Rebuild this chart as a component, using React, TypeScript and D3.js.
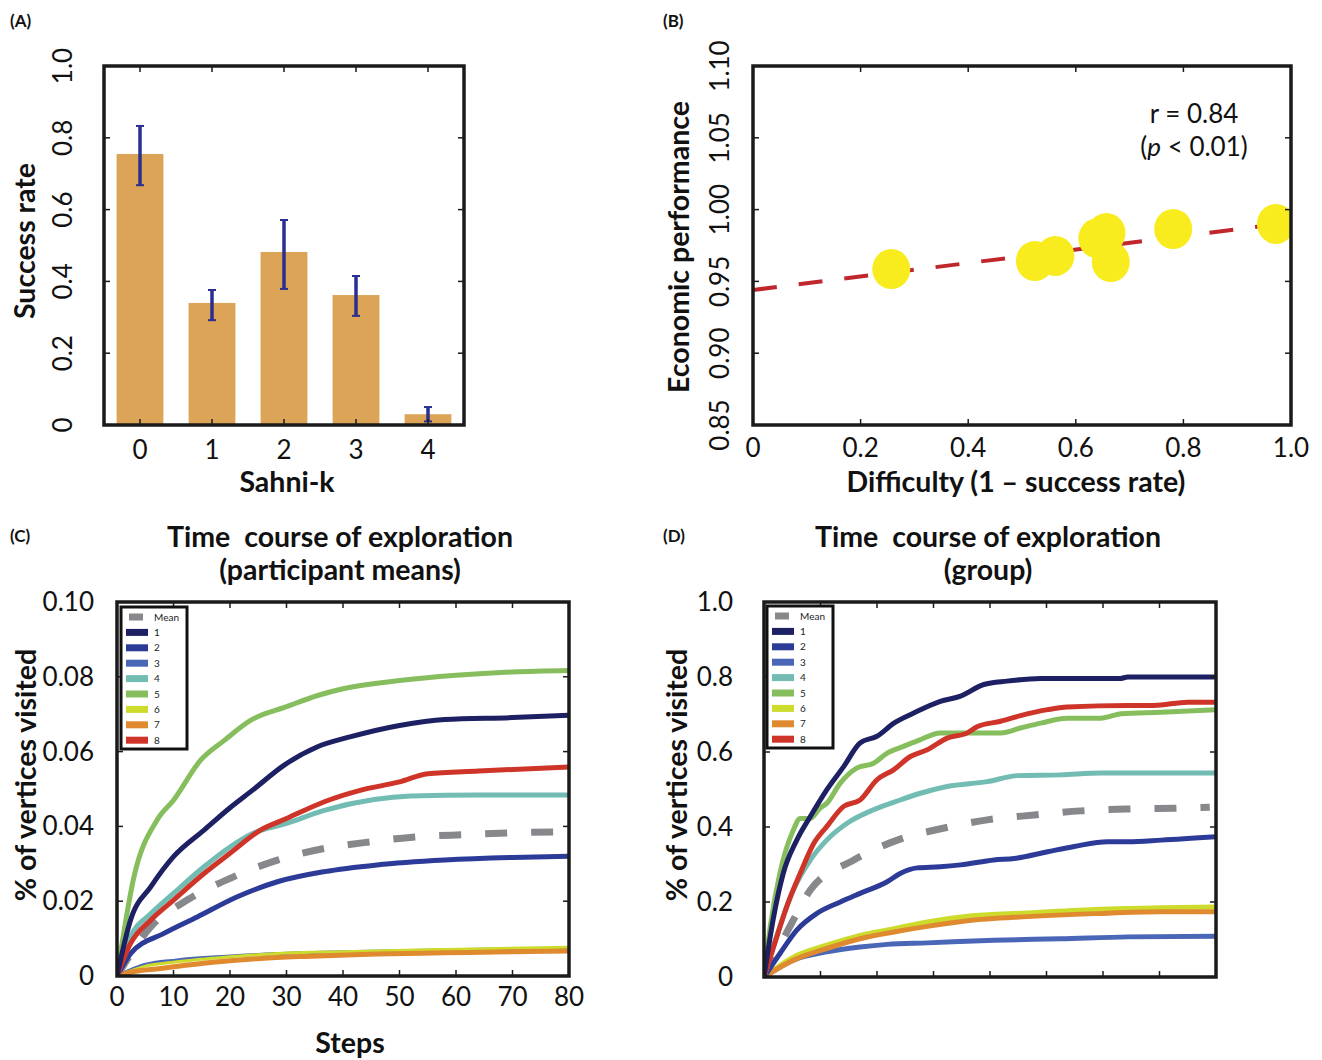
import * as d3 from "d3";
import React from "react";

const FONT = "Lato, 'Open Sans', sans-serif";

// (A) success rate by Sahni-k
const sahniK = ["0", "1", "2", "3", "4"];
const successRate = [0.755, 0.34, 0.482, 0.362, 0.03];
const successLo = [0.668, 0.292, 0.379, 0.304, 0.01];
const successHi = [0.833, 0.376, 0.571, 0.415, 0.05];
const yTicksA = [0, 0.2, 0.4, 0.6, 0.8, 1.0];
const yTickLabelsA = ["0", "0.2", "0.4", "0.6", "0.8", "1.0"];

// (B) difficulty vs economic performance
const difficulty = [0.257, 0.524, 0.562, 0.64, 0.657, 0.665, 0.781, 0.972];
const economic = [0.9586, 0.9642, 0.9677, 0.98, 0.9837, 0.9635, 0.9865, 0.99];
const fitIntercept = 0.944;
const fitSlope = 0.047;
const xTicksB = [0, 0.2, 0.4, 0.6, 0.8, 1.0];
const xTickLabelsB = ["0", "0.2", "0.4", "0.6", "0.8", "1.0"];
const yTicksB = [0.85, 0.9, 0.95, 1.0, 1.05, 1.1];
const yTickLabelsB = ["0.85", "0.90", "0.95", "1.00", "1.05", "1.10"];

// (C) participant means, [step, fraction]
type Pt = [number, number];
const cMean: Pt[] = [[0, 0], [6, 0.0132], [12.4, 0.0203], [20.6, 0.0265], [28.4, 0.031], [36.7, 0.0341], [45, 0.0359], [53, 0.0372], [61.5, 0.0378], [70, 0.0383], [80, 0.0386]];
const c1: Pt[] = [[0, 0], [2.4, 0.015], [6, 0.0239], [10, 0.0319], [15.4, 0.039], [20, 0.045], [24, 0.0497], [29.6, 0.0564], [35.5, 0.0613], [41.4, 0.064], [50, 0.067], [58, 0.0686], [70, 0.0691], [80, 0.0697]];
const c2: Pt[] = [[0, 0], [2.4, 0.006], [8.3, 0.0114], [14.2, 0.0158], [21.3, 0.0212], [28.4, 0.0252], [36.7, 0.0279], [46, 0.0297], [58, 0.031], [70, 0.0317], [80, 0.032]];
const c3: Pt[] = [[0, 0], [4.7, 0.003], [10.6, 0.0043], [19.5, 0.0053], [28.4, 0.006], [40, 0.0065], [58, 0.007], [80, 0.0074]];
const c4: Pt[] = [[0, 0], [2.4, 0.0105], [6, 0.0167], [10, 0.0221], [15.4, 0.0292], [20, 0.0345], [24, 0.0381], [30, 0.0408], [36.7, 0.0443], [45.5, 0.0472], [52, 0.0481], [64, 0.0484], [80, 0.0484]];
const c5: Pt[] = [[0, 0], [3, 0.0265], [7.1, 0.0417], [10, 0.047], [14.8, 0.0577], [19, 0.063], [23.7, 0.0684], [30, 0.072], [35.5, 0.075], [40, 0.0768], [50, 0.079], [60, 0.0804], [70, 0.0813], [80, 0.0817]];
const c6: Pt[] = [[0, 0], [4.7, 0.0025], [10.6, 0.0038], [19.5, 0.0051], [28.4, 0.006], [40, 0.0065], [58, 0.0071], [80, 0.0077]];
const c7: Pt[] = [[0, 0], [2.4, 0.001], [7.7, 0.002], [16.5, 0.0036], [25.4, 0.0047], [34.3, 0.0053], [46, 0.0059], [58, 0.0062], [70, 0.0065], [80, 0.0067]];
const c8: Pt[] = [[0, 0], [2.4, 0.0087], [6, 0.015], [10, 0.0203], [15.4, 0.0274], [20, 0.0328], [25.4, 0.039], [30, 0.0421], [36.7, 0.0466], [43.2, 0.0497], [50, 0.0519], [55, 0.0541], [64, 0.0548], [80, 0.0559]];

// (D) group, [step, fraction]
const dMean: Pt[] = [[0, 0], [5.2, 0.152], [8.2, 0.232], [15.9, 0.312], [23.6, 0.365], [31.5, 0.396], [39.5, 0.419], [47.8, 0.432], [56.1, 0.443], [64.4, 0.448], [72.7, 0.45], [78.9, 0.453]];
const d1: Pt[] = [[0, 0], [1.7, 0.16], [3.4, 0.276], [5.8, 0.365], [8.2, 0.428], [11.1, 0.499], [14.1, 0.561], [17, 0.624], [20, 0.642], [23, 0.677], [26.5, 0.704], [31.2, 0.735], [34.8, 0.749], [38.9, 0.78], [43, 0.789], [49, 0.796], [63, 0.796], [64.4, 0.8], [80, 0.8]];
const d2: Pt[] = [[0, 0], [2.8, 0.062], [5.8, 0.125], [9.3, 0.169], [13.5, 0.2], [17, 0.223], [21.8, 0.254], [24.1, 0.276], [27.1, 0.291], [31.2, 0.294], [34.8, 0.299], [40.7, 0.312], [44.3, 0.316], [50.2, 0.334], [54.9, 0.348], [60.8, 0.361], [64.4, 0.361], [70.3, 0.365], [80, 0.374]];
const d3s: Pt[] = [[0, 0], [5.2, 0.045], [11.1, 0.067], [17, 0.08], [21.8, 0.087], [28.9, 0.091], [40.7, 0.098], [52.5, 0.102], [64.4, 0.107], [80, 0.109]];
const d4: Pt[] = [[0, 0], [2.8, 0.134], [5.2, 0.232], [8.2, 0.312], [11.1, 0.365], [14.7, 0.41], [19.4, 0.446], [24.1, 0.472], [27.7, 0.49], [32.4, 0.508], [39.5, 0.521], [44.9, 0.537], [52.5, 0.539], [59.6, 0.544], [80, 0.544]];
const d5: Pt[] = [[0, 0], [1.1, 0.134], [2.8, 0.276], [5.2, 0.392], [6.4, 0.423], [8.2, 0.423], [9.9, 0.45], [11.1, 0.463], [13.5, 0.517], [16.4, 0.557], [19.4, 0.57], [21.8, 0.597], [24.7, 0.615], [27.7, 0.633], [31.2, 0.651], [36, 0.651], [41.9, 0.651], [45.4, 0.664], [49, 0.677], [53.7, 0.69], [59.6, 0.69], [63.2, 0.702], [70.3, 0.706], [80, 0.713]];
const d6: Pt[] = [[0, 0], [5.2, 0.053], [11.1, 0.085], [17, 0.111], [23, 0.129], [28.9, 0.147], [36, 0.162], [46.6, 0.171], [58.5, 0.18], [70.3, 0.185], [80, 0.187]];
const d7: Pt[] = [[0, 0], [5.2, 0.045], [11.1, 0.076], [17, 0.102], [23, 0.12], [28.9, 0.135], [36, 0.15], [46.6, 0.161], [58.5, 0.169], [70.3, 0.174], [80, 0.174]];
const d8: Pt[] = [[0, 0], [1.7, 0.08], [4, 0.187], [6.4, 0.276], [8.8, 0.356], [11.1, 0.401], [14.1, 0.455], [17, 0.472], [20, 0.526], [23, 0.553], [25.9, 0.588], [28.9, 0.606], [32.4, 0.637], [36, 0.651], [37.8, 0.668], [41.9, 0.682], [45.4, 0.697], [50.2, 0.713], [53.7, 0.72], [64.4, 0.724], [69, 0.724], [75, 0.733], [80, 0.733]];

const seriesNames = ["Mean", "1", "2", "3", "4", "5", "6", "7", "8"];
const seriesColors = ["#87888c", "#1d2062", "#2c3a98", "#4a66b6", "#72bcb4", "#86be5e", "#cddc2c", "#e08a30", "#cf3429"];
const seriesC = [cMean, c1, c2, c3, c4, c5, c6, c7, c8];
const seriesD = [dMean, d1, d2, d3s, d4, d5, d6, d7, d8];
const widthsC = [7, 5, 5, 3, 5, 5, 3, 5, 5];
const widthsD = [7, 5, 5, 5, 5, 5, 5, 5, 5];

const stepTicks = [0, 10, 20, 30, 40, 50, 60, 70, 80];
const yTicksC = [0, 0.02, 0.04, 0.06, 0.08, 0.1];
const yTickLabelsC = ["0", "0.02", "0.04", "0.06", "0.08", "0.10"];
const yTicksD = [0, 0.2, 0.4, 0.6, 0.8, 1.0];
const yTickLabelsD = ["0", "0.2", "0.4", "0.6", "0.8", "1.0"];

const Frame = ({ x0, x1, y0, y1, xt, yt }: any) => {
  const t = 6;
  return (
    <g stroke="#1a1a1a">
      {xt.map((x: number, i: number) => (
        <g key={"x" + i} strokeWidth={1.5}>
          <line x1={x} x2={x} y1={y1} y2={y1 - t} />
          <line x1={x} x2={x} y1={y0} y2={y0 + t} />
        </g>
      ))}
      {yt.map((y: number, i: number) => (
        <g key={"y" + i} strokeWidth={1.5}>
          <line x1={x0} x2={x0 + t} y1={y} y2={y} />
          <line x1={x1} x2={x1 - t} y1={y} y2={y} />
        </g>
      ))}
      <rect x={x0} y={y0} width={x1 - x0} height={y1 - y0} fill="none" strokeWidth={3.5} />
    </g>
  );
};

const Legend = ({ x, y }: any) => {
  const row = 15.4;
  return (
    <g>
      <rect x={x} y={y} width={66} height={142} fill="#fff" stroke="#111" strokeWidth={3} />
      {seriesNames.map((n, i) => {
        const cy = y + 10 + i * row;
        return (
          <g key={n}>
            {i === 0 ? (
              <rect x={x + 8} y={cy - 3.5} width={14} height={7} fill={seriesColors[i]} />
            ) : (
              <rect x={x + 5} y={cy - 3.5} width={22} height={7} fill={seriesColors[i]} />
            )}
            <text x={x + 33} y={cy + 3.5} fontSize={10} fontFamily={FONT} fill="#222">{n}</text>
          </g>
        );
      })}
    </g>
  );
};

const Curves = ({ series, widths, xs, ys, clip }: any) => {
  const line = d3.line<Pt>().x((d) => xs(d[0])).y((d) => ys(d[1])).curve(d3.curveMonotoneX);
  const order = [0, 3, 6, 7, 2, 4, 5, 8, 1];
  return (
    <g clipPath={`url(#${clip})`}>
      {order.map((i) => (
        <path
          key={i}
          d={line(series[i]) || ""}
          fill="none"
          stroke={seriesColors[i]}
          strokeWidth={widths[i]}
          strokeDasharray={i === 0 ? "22 24" : undefined}
          strokeLinejoin="round"
        />
      ))}
    </g>
  );
};

export default function App() {
  // A
  const xA = d3.scaleBand().domain(sahniK).range([104, 464]).paddingInner(0.35).paddingOuter(0.175);
  const yA = d3.scaleLinear().domain([0, 1]).range([425, 66]);
  // B
  const xB = d3.scaleLinear().domain([0, 1]).range([753, 1291]);
  const yB = d3.scaleLinear().domain([0.85, 1.1]).range([425, 66]);
  // C, D
  const xC = d3.scaleLinear().domain([0, 80]).range([117, 569]);
  const yC = d3.scaleLinear().domain([0, 0.1]).range([976, 602]);
  const xD = d3.scaleLinear().domain([0, 80]).range([764, 1216]);
  const yD = d3.scaleLinear().domain([0, 1]).range([977, 602]);

  const tick = { fontFamily: FONT, fontSize: 26, fill: "#111" };
  const bold = { fontFamily: FONT, fontSize: 28.5, fontWeight: 700, fill: "#111" };
  const panel = { fontFamily: FONT, fontSize: 17, fontWeight: 700, fill: "#111" };

  return (
    <svg width={1322} height={1060} style={{ position: "absolute", left: 0, top: 0, background: "#fff" }}>
      <defs>
        <clipPath id="clipB"><rect x={753} y={66} width={538} height={359} /></clipPath>
        <clipPath id="clipC"><rect x={117} y={602} width={452} height={374} /></clipPath>
        <clipPath id="clipD"><rect x={764} y={602} width={452} height={375} /></clipPath>
      </defs>
      <rect width={1322} height={1060} fill="#fff" />

      {/* (A) */}
      <text x={10} y={27} {...panel}>(A)</text>
      {sahniK.map((k, i) => {
        const cx = (xA(k) as number) + xA.bandwidth() / 2;
        return (
          <g key={k}>
            <rect x={xA(k)} y={yA(successRate[i])} width={xA.bandwidth()} height={yA(0) - yA(successRate[i])} fill="#dca456" />
            <line x1={cx} x2={cx} y1={yA(successLo[i])} y2={yA(successHi[i])} stroke="#2b2f8f" strokeWidth={3.5} />
            <line x1={cx - 4} x2={cx + 4} y1={yA(successLo[i])} y2={yA(successLo[i])} stroke="#2b2f8f" strokeWidth={2} />
            <line x1={cx - 4} x2={cx + 4} y1={yA(successHi[i])} y2={yA(successHi[i])} stroke="#2b2f8f" strokeWidth={2} />
            <text x={cx} y={459} textAnchor="middle" {...tick}>{k}</text>
          </g>
        );
      })}
      <Frame x0={104} x1={464} y0={66} y1={425} xt={sahniK.map((k) => (xA(k) as number) + xA.bandwidth() / 2)} yt={yTicksA.map((v) => yA(v))} />
      {yTicksA.map((v, i) => (
        <text key={v} x={72} y={yA(v)} transform={`rotate(-90 72 ${yA(v)})`} textAnchor="middle" {...tick}>{yTickLabelsA[i]}</text>
      ))}
      <text x={35} y={241} transform="rotate(-90 35 241)" textAnchor="middle" {...bold}>Success rate</text>
      <text x={287} y={492} textAnchor="middle" {...bold}>Sahni-k</text>

      {/* (B) */}
      <text x={663} y={27} {...panel}>(B)</text>
      <g clipPath="url(#clipB)">
        <line x1={xB(0)} x2={xB(1)} y1={yB(fitIntercept)} y2={yB(fitIntercept + fitSlope)} stroke="#c0272d" strokeWidth={4} strokeDasharray="24 22" />
        {difficulty.map((d, i) => (
          <ellipse key={i} cx={xB(d)} cy={yB(economic[i])} rx={19} ry={20} fill="#f8ec1e" />
        ))}
      </g>
      <Frame x0={753} x1={1291} y0={66} y1={425} xt={xTicksB.map((v) => xB(v))} yt={yTicksB.map((v) => yB(v))} />
      {xTicksB.map((v, i) => (
        <text key={v} x={xB(v)} y={457} textAnchor="middle" {...tick}>{xTickLabelsB[i]}</text>
      ))}
      {yTicksB.map((v, i) => (
        <text key={v} x={729} y={yB(v)} transform={`rotate(-90 729 ${yB(v)})`} textAnchor="middle" {...tick}>{yTickLabelsB[i]}</text>
      ))}
      <text x={1194} y={123} textAnchor="middle" {...tick}>r = 0.84</text>
      <text x={1194} y={156} textAnchor="middle" {...tick}>(<tspan fontStyle="italic">p</tspan> &lt; 0.01)</text>
      <text x={689} y={247} transform="rotate(-90 689 247)" textAnchor="middle" {...bold}>Economic performance</text>
      <text x={1016} y={492} textAnchor="middle" {...bold}>Difficulty (1 – success rate)</text>

      {/* (C) */}
      <text x={10} y={542} {...panel}>(C)</text>
      <text x={340} y={547} textAnchor="middle" {...bold} style={{ whiteSpace: "pre" }}>Time  course of exploration</text>
      <text x={340} y={580} textAnchor="middle" {...bold}>(participant means)</text>
      <Curves series={seriesC} widths={widthsC} xs={xC} ys={yC} clip="clipC" />
      <Frame x0={117} x1={569} y0={602} y1={976} xt={stepTicks.map((v) => xC(v))} yt={yTicksC.map((v) => yC(v))} />
      <Legend x={121} y={607} />
      {stepTicks.map((v) => (
        <text key={v} x={xC(v)} y={1006} textAnchor="middle" {...tick}>{v}</text>
      ))}
      {yTicksC.map((v, i) => (
        <text key={v} x={94} y={yC(v) + 9} textAnchor="end" {...tick}>{yTickLabelsC[i]}</text>
      ))}
      <text x={350} y={1053} textAnchor="middle" {...bold}>Steps</text>
      <text x={36} y={775} transform="rotate(-90 36 775)" textAnchor="middle" {...bold}>% of vertices visited</text>

      {/* (D) */}
      <text x={663} y={542} {...panel}>(D)</text>
      <text x={988} y={547} textAnchor="middle" {...bold} style={{ whiteSpace: "pre" }}>Time  course of exploration</text>
      <text x={988} y={580} textAnchor="middle" {...bold}>(group)</text>
      <Curves series={seriesD} widths={widthsD} xs={xD} ys={yD} clip="clipD" />
      <Frame x0={764} x1={1216} y0={602} y1={977} xt={stepTicks.map((v) => xD(v))} yt={yTicksD.map((v) => yD(v))} />
      <Legend x={767} y={606} />
      {yTicksD.map((v, i) => (
        <text key={v} x={733} y={yD(v) + 9} textAnchor="end" {...tick}>{yTickLabelsD[i]}</text>
      ))}
      <text x={687} y={775} transform="rotate(-90 687 775)" textAnchor="middle" {...bold}>% of vertices visited</text>
    </svg>
  );
}
